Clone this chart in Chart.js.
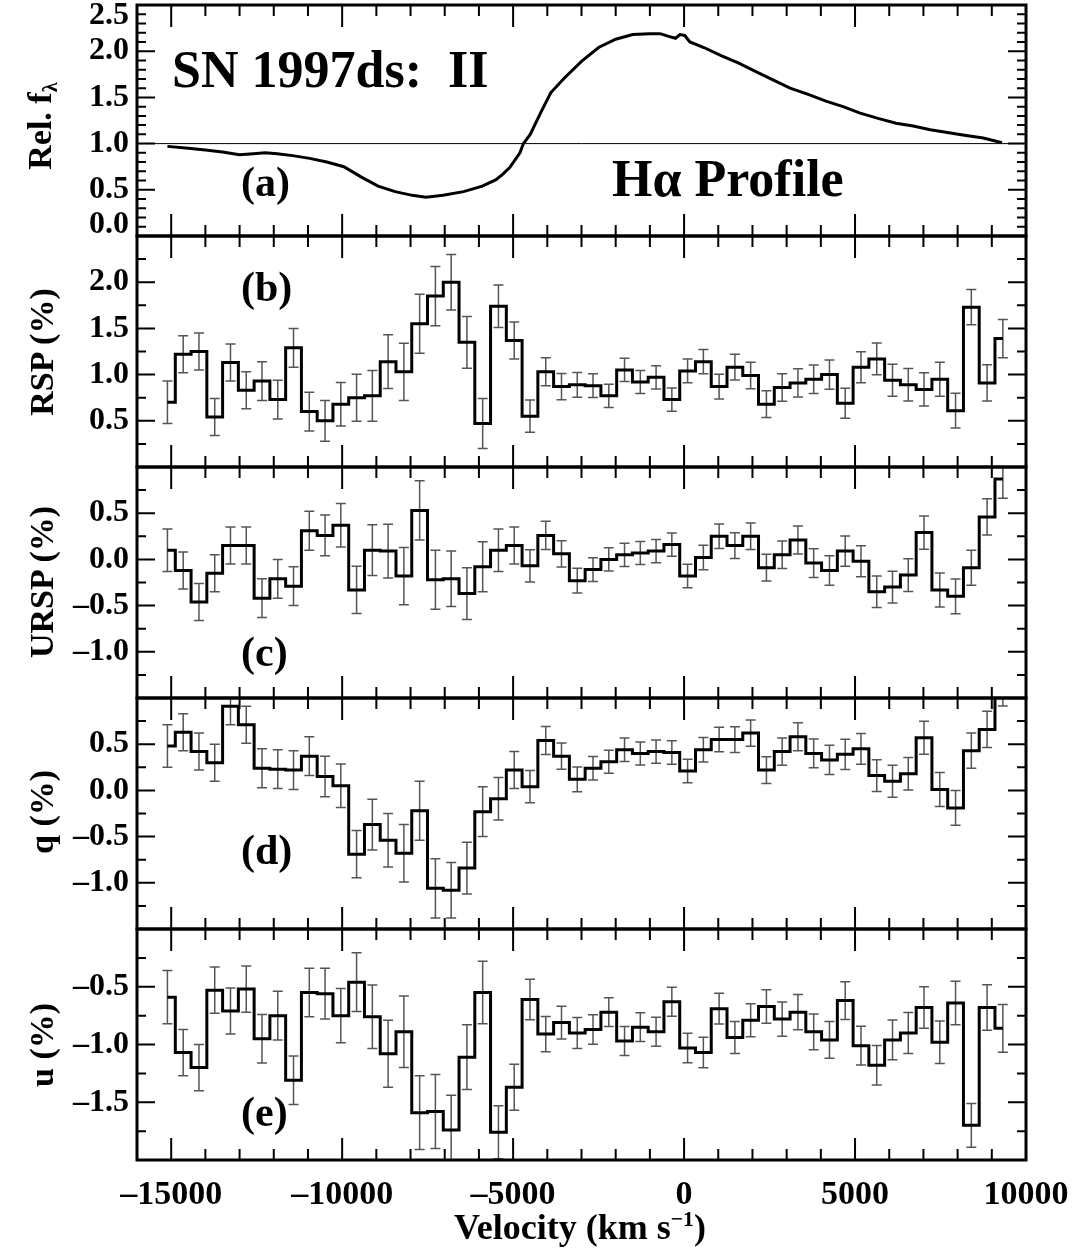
<!DOCTYPE html>
<html>
<head>
<meta charset="utf-8">
<script src="https://cdn.jsdelivr.net/npm/chart.js@4.4.1/dist/chart.umd.min.js"></script>
<style>
  body { margin: 0; background: #fff; }
  #fig { position: relative; width: 1076px; height: 1253px; overflow: hidden;
         font-family: "Liberation Serif", "Times New Roman", serif; font-weight: bold; color: #000; }
  #fig canvas { position: absolute; left: 0; }
  .lbl { position: absolute; white-space: nowrap; line-height: 1; }
  .ytitle { position: absolute; white-space: nowrap; line-height: 1; font-size: 34px;
            transform: translate(-50%, -50%) rotate(-90deg); }
  .ytitle sub { font-size: 60%; vertical-align: -0.3em; }
  .xtitle { position: absolute; white-space: nowrap; line-height: 1; font-size: 36px;
            transform: translate(-50%, -50%); }
  .xtitle sup { font-size: 60%; vertical-align: 0.6em; }
</style>
</head>
<body>
<div id="fig">
  <div class="lbl" style="left:172px;top:44px;font-size:52px">SN 1997ds:&nbsp; II</div>
  <div class="lbl" style="left:612px;top:153px;font-size:52px">H&alpha; Profile</div>
  <div class="lbl" style="left:241px;top:161px;font-size:42px">(a)</div>
  <div class="lbl" style="left:241px;top:266px;font-size:42px">(b)</div>
  <div class="lbl" style="left:241px;top:631px;font-size:42px">(c)</div>
  <div class="lbl" style="left:241px;top:829px;font-size:42px">(d)</div>
  <div class="lbl" style="left:241px;top:1091px;font-size:42px">(e)</div>
  <div class="ytitle" style="left:42px;top:126px">Rel. f<sub>&lambda;</sub></div>
  <div class="ytitle" style="left:42px;top:352px">RSP (%)</div>
  <div class="ytitle" style="left:42px;top:582px">URSP (%)</div>
  <div class="ytitle" style="left:42px;top:812px">q (%)</div>
  <div class="ytitle" style="left:42px;top:1045px">u (%)</div>
  <div class="xtitle" style="left:580px;top:1227px">Velocity (km s<sup>&minus;1</sup>)</div>
</div>
<script>
// ── Data ──
const velocity = [
  -15110, -14649, -14188, -13727, -13266, -12805, -12344, -11883, -11422, -10961,
  -10500, -10039, -9578, -9117, -8656, -8195, -7734, -7273, -6812, -6351,
  -5890, -5429, -4968, -4507, -4046, -3585, -3124, -2663, -2202, -1741,
  -1280, -819, -358, 103, 564, 1025, 1486, 1947, 2408, 2869,
  3330, 3791, 4252, 4713, 5174, 5635, 6096, 6557, 7018, 7479,
  7940, 8401, 8862, 9323
];
const sigma = [
  0.23, 0.20, 0.20, 0.20, 0.20, 0.20, 0.21, 0.21, 0.21, 0.21,
  0.22, 0.235, 0.255, 0.275, 0.29, 0.31, 0.32, 0.32, 0.30, 0.28,
  0.27, 0.23, 0.20, 0.175, 0.152, 0.142, 0.134, 0.128, 0.125, 0.126,
  0.124, 0.125, 0.126, 0.128, 0.132, 0.133, 0.139, 0.143, 0.145, 0.148,
  0.152, 0.155, 0.159, 0.163, 0.167, 0.171, 0.173, 0.177, 0.179, 0.184,
  0.188, 0.19, 0.197, 0.207
];
const rsp = [
  0.70, 1.22, 1.25, 0.54, 1.13, 0.83, 0.93, 0.73, 1.29, 0.60,
  0.50, 0.68, 0.75, 0.77, 1.14, 1.03, 1.55, 1.85, 2.00, 1.35,
  0.47, 1.74, 1.37, 0.55, 1.03, 0.87, 0.89, 0.88, 0.77, 1.05,
  0.92, 0.97, 0.73, 1.04, 1.14, 0.87, 1.08, 0.99, 0.68, 0.86,
  0.91, 0.95, 1.00, 0.69, 1.08, 1.17, 0.94, 0.89, 0.84, 0.95,
  0.61, 1.73, 0.91, 1.39
];
const ursp = [
  0.10, -0.12, -0.46, -0.15, 0.15, 0.15, -0.42, -0.21, -0.29, 0.31,
  0.26, 0.37, -0.33, 0.10, 0.09, -0.18, 0.53, -0.22, -0.21, -0.37,
  -0.08, 0.10, 0.15, -0.07, 0.26, 0.06, -0.23, -0.11, 0.00, 0.05,
  0.07, 0.09, 0.16, -0.18, 0.02, 0.25, 0.15, 0.25, -0.09, 0.05,
  0.21, -0.04, -0.12, 0.09, -0.02, -0.35, -0.30, -0.17, 0.29, -0.33,
  -0.40, -0.09, 0.46, 0.87
];
const qPct = [
  0.48, 0.63, 0.42, 0.30, 0.91, 0.71, 0.24, 0.23, 0.22, 0.37,
  0.15, 0.05, -0.69, -0.37, -0.54, -0.68, -0.22, -1.06, -1.08, -0.84,
  -0.23, -0.09, 0.22, 0.04, 0.54, 0.37, 0.12, 0.24, 0.31, 0.44,
  0.40, 0.42, 0.41, 0.21, 0.44, 0.55, 0.55, 0.62, 0.22, 0.42,
  0.58, 0.40, 0.33, 0.39, 0.45, 0.16, 0.10, 0.18, 0.57, 0.01,
  -0.19, 0.43, 0.66, 1.12
];
const uPct = [
  -0.59, -1.07, -1.20, -0.53, -0.71, -0.52, -0.95, -0.75, -1.31, -0.55,
  -0.56, -0.75, -0.46, -0.76, -1.08, -0.89, -1.59, -1.58, -1.74, -1.11,
  -0.55, -1.76, -1.37, -0.61, -0.91, -0.81, -0.90, -0.87, -0.72, -0.97,
  -0.85, -0.89, -0.63, -1.03, -1.07, -0.69, -0.94, -0.79, -0.67, -0.78,
  -0.72, -0.89, -0.96, -0.62, -1.01, -1.18, -0.96, -0.90, -0.68, -0.98,
  -0.64, -1.70, -0.68, -0.86
];

// H-alpha flux profile
const fluxVel = [
  -15110, -14500, -14000, -13500, -13000, -12600, -12250, -11900, -11450, -10950,
  -10450, -9950, -9450, -8950, -8450, -7950, -7550, -7050, -6450, -5900,
  -5500, -5300, -5100, -4800, -4700, -4500, -4200, -3900, -3500, -3000,
  -2500, -2000, -1500, -1000, -700, -450, -250, -120, 20, 170,
  580, 1100, 1600, 2100, 2600, 3100, 3650, 4150, 4650, 5150,
  5700, 6200, 6700, 7200, 7700, 8200, 8750, 9300
];
const fluxRel = [
  0.97, 0.95, 0.93, 0.91, 0.88, 0.89, 0.90, 0.89, 0.87, 0.84,
  0.80, 0.75, 0.64, 0.54, 0.48, 0.44, 0.42, 0.44, 0.48, 0.54,
  0.61, 0.67, 0.74, 0.90, 1.00, 1.10, 1.33, 1.55, 1.71, 1.89,
  2.04, 2.13, 2.18, 2.19, 2.19, 2.16, 2.14, 2.18, 2.17, 2.10,
  2.04, 1.95, 1.87, 1.78, 1.69, 1.60, 1.53, 1.46, 1.40, 1.33,
  1.27, 1.22, 1.19, 1.15, 1.12, 1.09, 1.06, 1.01
];

const xTicks = [-15000, -10000, -5000, 0, 5000, 10000];
const yTicksA = [0, 0.5, 1.0, 1.5, 2.0, 2.5];
const yTicksB = [0.5, 1.0, 1.5, 2.0];
const yTicksC = [-1.0, -0.5, 0.0, 0.5];
const yTicksD = [-1.0, -0.5, 0.0, 0.5];
const yTicksE = [-1.5, -1.0, -0.5];

// ── Layout ──
const W = 1076, H = 1253;
const X_MIN = -16000, X_MAX = 10000;
const M = 45;            // canvas margin above/below each panel
const LEFT = 137, RIGHT_PAD = W - 1026;
const FONT = 'Liberation Serif';

function dash(v, digits) {
  return (v < 0 ? '\u2013' : '') + Math.abs(v).toFixed(digits);
}

// ── Plugins ──
const errorBars = {
  id: 'errorBars',
  beforeDatasetsDraw(chart) {
    const { ctx, chartArea: a, scales: { y } } = chart;
    ctx.save();
    ctx.beginPath();
    ctx.rect(a.left, a.top, a.width, a.height);
    ctx.clip();
    ctx.strokeStyle = '#555';
    ctx.lineWidth = 1.5;
    chart.data.datasets.forEach((ds, di) => {
      if (!ds.errors) return;
      chart.getDatasetMeta(di).data.forEach((pt, i) => {
        const v = ds.data[i].y, e = ds.errors[i];
        const y1 = y.getPixelForValue(v - e), y2 = y.getPixelForValue(v + e);
        ctx.beginPath();
        ctx.moveTo(pt.x, y1); ctx.lineTo(pt.x, y2);
        ctx.moveTo(pt.x - 5, y1); ctx.lineTo(pt.x + 5, y1);
        ctx.moveTo(pt.x - 5, y2); ctx.lineTo(pt.x + 5, y2);
        ctx.stroke();
      });
    });
    ctx.restore();
  }
};

const frame = {
  id: 'frame',
  afterDatasetsDraw(chart, args, opts) {
    const { ctx, chartArea: a, scales: { x, y } } = chart;
    const seg = (x1, y1, x2, y2) => { ctx.moveTo(x1, y1); ctx.lineTo(x2, y2); };
    ctx.save();
    ctx.strokeStyle = '#000';
    ctx.lineWidth = 2;
    ctx.beginPath();
    // velocity ticks, top and bottom
    for (let v = X_MIN; v <= X_MAX; v += 1000) {
      const px = x.getPixelForValue(v);
      const len = v % 5000 === 0 ? 22 : 11;
      seg(px, a.top, px, a.top + len);
      seg(px, a.bottom, px, a.bottom - len);
    }
    // value ticks, left and right
    const n = Math.round((y.max - y.min) / opts.minor);
    for (let i = 0; i <= n; i++) {
      const v = y.min + i * opts.minor;
      const py = y.getPixelForValue(v);
      const major = Math.abs(v / 0.5 - Math.round(v / 0.5)) < 1e-6;
      const len = major ? 18 : 9;
      seg(a.left, py, a.left + len, py);
      seg(a.right, py, a.right - len, py);
    }
    ctx.stroke();
    ctx.lineWidth = 3;
    ctx.strokeRect(a.left, a.top, a.width, a.height);
    ctx.restore();
  }
};

// ── Panels ──
const stepSet = vals => ({
  data: velocity.map((v, i) => ({ x: v, y: vals[i] })),
  errors: sigma,
  stepped: 'middle',
  borderColor: '#000',
  borderWidth: 3,
});

const PANELS = [
  { top: 5, bottom: 236, min: 0, max: 2.5, ticks: yTicksA, minor: 0.1,
    datasets: [
      { data: [{ x: X_MIN, y: 1 }, { x: X_MAX, y: 1 }], borderColor: '#000', borderWidth: 1 },
      { data: fluxVel.map((v, i) => ({ x: v, y: fluxRel[i] })), borderColor: '#000', borderWidth: 3 },
    ] },
  { top: 236, bottom: 467, min: 0, max: 2.5, ticks: yTicksB, minor: 0.25, datasets: [stepSet(rsp)] },
  { top: 467, bottom: 698, min: -1.5, max: 1.0, ticks: yTicksC, minor: 0.25, datasets: [stepSet(ursp)] },
  { top: 698, bottom: 929, min: -1.5, max: 1.0, ticks: yTicksD, minor: 0.25, datasets: [stepSet(qPct)] },
  { top: 929, bottom: 1160, min: -2.0, max: 0.0, ticks: yTicksE, minor: 0.25, datasets: [stepSet(uPct)] },
];

// edge labels of panel (a) are nudged inside the frame
function yLabel(idx, v) {
  const s = dash(v, 1);
  if (idx === 0 && v === 2.5) return ['', s];
  if (idx === 0 && v === 0) return [s, ''];
  return s;
}

const fig = document.getElementById('fig');

PANELS.forEach((p, idx) => {
  const last = idx === PANELS.length - 1;
  const top = p.top - M;
  const height = last ? H - top : (p.bottom - p.top) + 2 * M;

  const cv = document.createElement('canvas');
  cv.width = W; cv.height = height;
  cv.style.top = top + 'px';
  cv.style.width = W + 'px'; cv.style.height = height + 'px';
  fig.insertBefore(cv, fig.firstChild);

  new Chart(cv.getContext('2d'), {
    type: 'line',
    data: { datasets: p.datasets },
    options: {
      responsive: false,
      animation: false,
      devicePixelRatio: 1,
      layout: { padding: { top: M, bottom: last ? 0 : M, left: 0, right: RIGHT_PAD } },
      elements: { point: { radius: 0 }, line: { tension: 0 } },
      plugins: { legend: { display: false }, tooltip: { enabled: false }, frame: { minor: p.minor } },
      scales: {
        x: {
          type: 'linear', min: X_MIN, max: X_MAX, display: last,
          grid: { display: false, drawTicks: false }, border: { display: false },
          afterBuildTicks: s => { s.ticks = xTicks.map(v => ({ value: v })); },
          afterFit: s => {
            s.height = last ? H - 1160 : 0;
            s.paddingLeft = 0; s.paddingRight = 0;
          },
          ticks: {
            color: '#000', padding: 18, autoSkip: false, maxRotation: 0, minRotation: 0,
            font: { family: FONT, size: 34, weight: 'bold', lineHeight: 1 },
            callback: v => dash(v, 0),
          },
        },
        y: {
          type: 'linear', min: p.min, max: p.max,
          grid: { display: false, drawTicks: false }, border: { display: false },
          afterBuildTicks: s => { s.ticks = p.ticks.map(v => ({ value: v })); },
          afterFit: s => { s.width = LEFT; s.paddingTop = 0; s.paddingBottom = 0; },
          ticks: {
            color: '#000', padding: 8, autoSkip: false,
            font: { family: FONT, size: 32, weight: 'bold', lineHeight: 0.7 },
            callback: v => yLabel(idx, v),
          },
        },
      },
    },
    plugins: [errorBars, frame],
  });
});
</script>
</body>
</html>
